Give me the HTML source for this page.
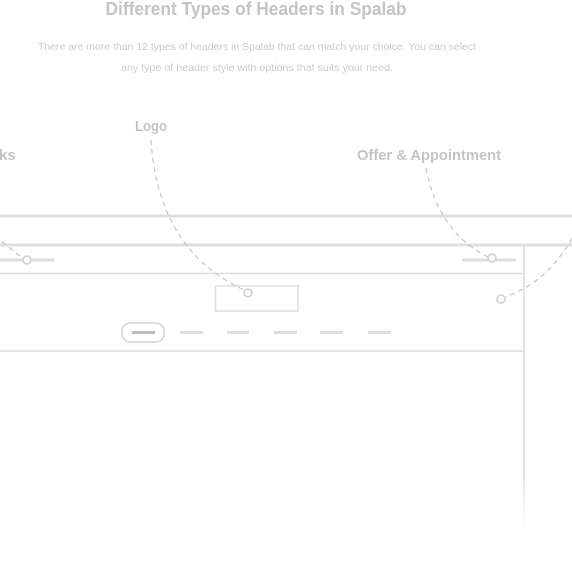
<!DOCTYPE html>
<html><head><meta charset="utf-8"><style>
html,body{margin:0;padding:0;background:#fff;width:572px;height:572px;overflow:hidden}
svg{display:block}
text{font-family:"Liberation Sans",sans-serif;fill:#c4c4c4}
</style></head><body>
<svg width="572" height="572" viewBox="0 0 572 572">
  <defs>
    <linearGradient id="fade" gradientUnits="userSpaceOnUse" x1="0" y1="244" x2="0" y2="532">
      <stop offset="0.8" stop-color="#dcdcdc" stop-opacity="1"/>
      <stop offset="1" stop-color="#dcdcdc" stop-opacity="0"/>
    </linearGradient>
  </defs>
  <text x="256" y="15" text-anchor="middle" font-size="18" font-weight="bold" textLength="301" lengthAdjust="spacingAndGlyphs">Different Types of Headers in Spalab</text>
  <text x="257" y="50" text-anchor="middle" font-size="10" textLength="438" lengthAdjust="spacingAndGlyphs" style="fill:#cbcbcb">There are more than 12 types of headers in Spalab that can match your choice. You can select</text>
  <text x="257" y="71" text-anchor="middle" font-size="10" textLength="272" lengthAdjust="spacingAndGlyphs" style="fill:#cbcbcb">any type of header style with options that suits your need.</text>

  <text x="151" y="131" text-anchor="middle" font-size="15" font-weight="bold" textLength="32" lengthAdjust="spacingAndGlyphs">Logo</text>
  <text x="-1" y="160" font-size="15" font-weight="bold">ks</text>
  <text x="429" y="160" text-anchor="middle" font-size="15" font-weight="bold" textLength="144" lengthAdjust="spacingAndGlyphs">Offer &amp; Appointment</text>

  <g stroke="#dedede" fill="none">
    <line x1="0" y1="216" x2="572" y2="216" stroke-width="3"/>
    <line x1="0" y1="245" x2="572" y2="245" stroke-width="3"/>
    <line x1="0" y1="273.5" x2="524" y2="273.5" stroke-width="1.5"/>
    <line x1="0" y1="351" x2="524" y2="351" stroke-width="1.5"/>
    <rect x="523.2" y="244" width="1.6" height="288" fill="url(#fade)" stroke="none"/>
    <line x1="0" y1="260" x2="54" y2="260" stroke-width="3"/>
    <line x1="462" y1="260" x2="516" y2="260" stroke-width="3"/>
    <rect x="215.5" y="286" width="82.5" height="25" stroke-width="1.5"/>
    <rect x="122" y="323" width="42" height="19" rx="8" stroke="#d2d2d2" stroke-width="1.5"/>
    <line x1="132" y1="332.5" x2="155" y2="332.5" stroke="#bcbcbc" stroke-width="3"/>
    <g stroke-width="3">
      <line x1="180" y1="332.5" x2="203" y2="332.5"/>
      <line x1="227" y1="332.5" x2="249" y2="332.5"/>
      <line x1="274" y1="332.5" x2="297" y2="332.5"/>
      <line x1="320" y1="332.5" x2="343" y2="332.5"/>
      <line x1="368" y1="332.5" x2="391" y2="332.5"/>
    </g>
  </g>

  <g stroke="#c4c4c4" stroke-width="1.2" fill="none" stroke-dasharray="5 4">
    <path d="M151,140 Q158,250 244,290"/>
    <path d="M426,168 Q438,232 488,257"/>
    <path d="M572,238 Q548,282 505,297"/>
    <path d="M-5,236 Q12,250 23,258"/>
  </g>
  <g stroke="#cfcfcf" stroke-width="1.5" fill="#fff">
    <circle cx="27" cy="260" r="4"/>
    <circle cx="492" cy="258" r="4"/>
    <circle cx="248" cy="293" r="4"/>
    <circle cx="501" cy="299" r="4"/>
  </g>
</svg>
</body></html>
